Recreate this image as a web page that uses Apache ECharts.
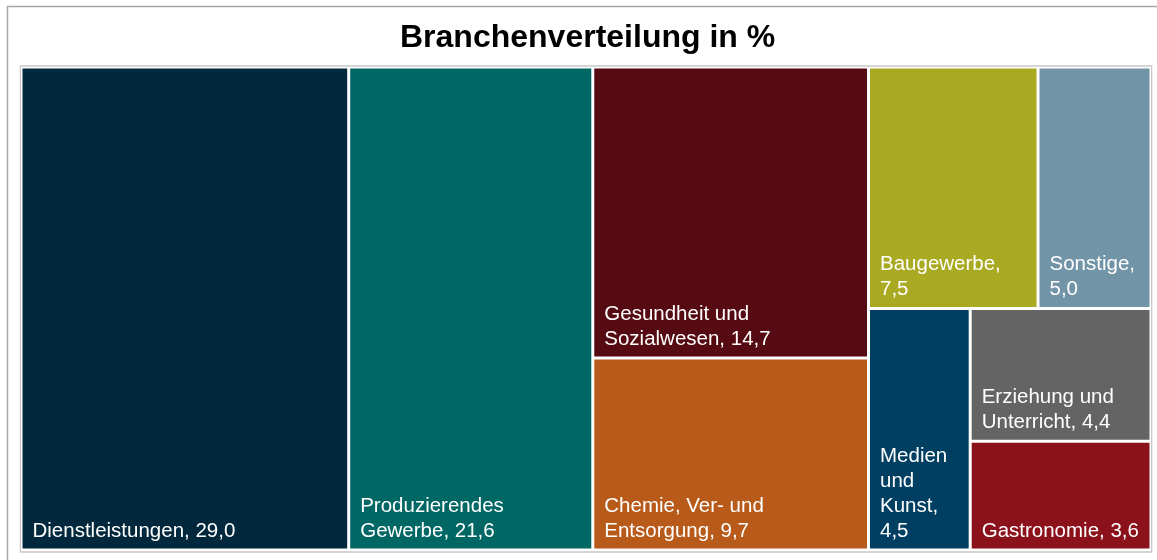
<!DOCTYPE html>
<html>
<head>
<meta charset="utf-8">
<script src="https://cdn.jsdelivr.net/npm/echarts@6/dist/echarts.min.js"></script>
<style>
  html, body { margin: 0; padding: 0; background: #fff; }
  #treemap { width: 1157px; height: 560px; }
</style>
</head>
<body>
<div id="treemap"></div>
<script>
  // Branchen und Anteile in %
  const branchen = ['Dienstleistungen', 'Produzierendes Gewerbe', 'Gesundheit und Sozialwesen',
    'Chemie, Ver- und Entsorgung', 'Baugewerbe', 'Sonstige', 'Medien und Kunst',
    'Erziehung und Unterricht', 'Gastronomie'];
  const anteile = [29.0, 21.6, 14.7, 9.7, 7.5, 5.0, 4.5, 4.4, 3.6];
  const farben = ['#01283c', '#006764', '#560b12', '#b85a19', '#a9aa21', '#7294a7',
    '#003f62', '#646464', '#8b111b'];
  // Beschriftung mit Zeilenumbruechen wie im Original
  const etiketten = ['Dienstleistungen, ', 'Produzierendes\nGewerbe, ', 'Gesundheit und\nSozialwesen, ',
    'Chemie, Ver- und\nEntsorgung, ', 'Baugewerbe,\n', 'Sonstige,\n', 'Medien\nund\nKunst,\n',
    'Erziehung und\nUnterricht, ', 'Gastronomie, '];
  // Gruppierung (Indizes), damit die Kacheln so liegen wie im Original
  const gruppen = [0, [1, [[2, 3], [[4, 5], [6, [7, 8]]]]]];

  const fmt = v => v.toFixed(1).replace('.', ',');

  function knoten(g) {
    if (typeof g === 'number') {
      return {
        name: branchen[g],
        value: anteile[g],
        label: { formatter: etiketten[g] + fmt(anteile[g]) },
        itemStyle: { color: farben[g], borderColor: '#fff', borderWidth: 1.5 }
      };
    }
    return { name: '', children: g.map(knoten) };
  }

  const option = {
    animation: false,
    title: {
      text: 'Branchenverteilung in %',
      left: 395,
      top: 17,
      textStyle: { fontFamily: 'Liberation Sans, Arial', fontSize: 32, fontWeight: 'bold', color: '#000' }
    },
    graphic: [
      { type: 'rect', shape: { x: 7.5, y: 6.5, width: 1200, height: 600 },
        style: { fill: 'none', stroke: '#a6a6a6', lineWidth: 1.5 }, silent: true },
      { type: 'rect', shape: { x: 20.5, y: 66, width: 1131, height: 486 },
        style: { fill: 'none', stroke: '#c8c8c8', lineWidth: 1.5 }, silent: true }
    ],
    series: [{
      type: 'treemap',
      left: 21,
      top: 67,
      width: 1130,
      height: 483,
      sort: false,
      squareRatio: 1,
      roam: false,
      nodeClick: false,
      breadcrumb: { show: false },
      itemStyle: { borderWidth: 0, gapWidth: 0, borderColor: '#fff' },
      label: {
        show: true,
        position: 'insideBottomLeft',
        distance: 5,
        offset: [5, 0],
        padding: 0,
        color: '#fff',
        fontFamily: 'Liberation Sans, Arial',
        fontSize: 20.5,
        lineHeight: 25
      },
      data: gruppen.map(knoten)
    }]
  };

  const chart = echarts.init(document.getElementById('treemap'));
  chart.setOption(option);
</script>
</body>
</html>
